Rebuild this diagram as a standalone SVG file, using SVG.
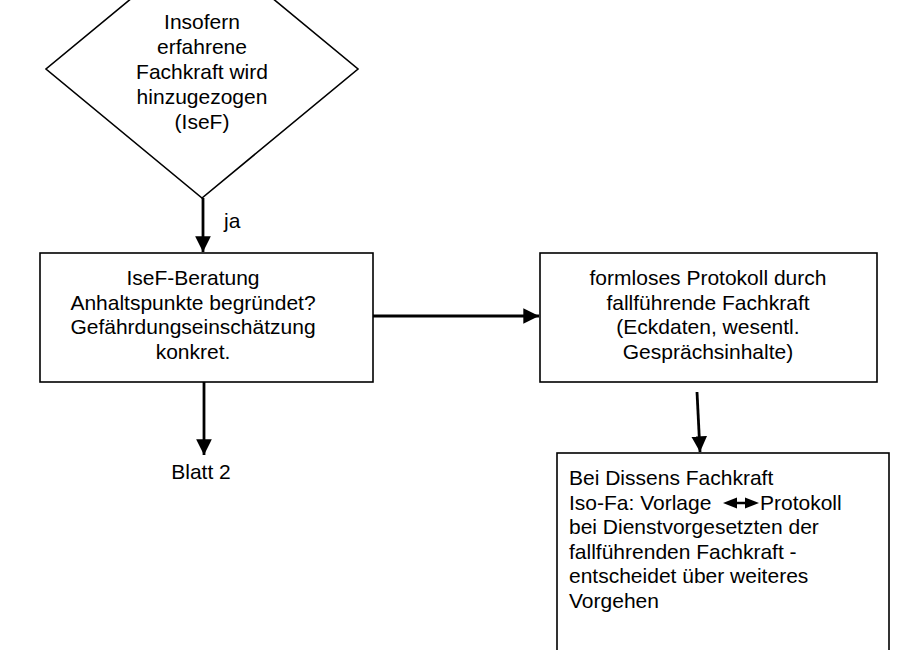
<svg xmlns="http://www.w3.org/2000/svg" width="898" height="650" viewBox="0 0 898 650">
<defs>
<style>
.shape{fill:#fff;stroke:#000;stroke-width:1.6}
.t{font-family:"Liberation Sans",Arial,sans-serif;font-size:21px;fill:#000}
.c{text-anchor:middle}
.conn{stroke:#000;stroke-width:2.8;fill:none}
.head{fill:#000}
</style>
<marker id="arr" viewBox="0 0 10 10" refX="10" refY="5" markerWidth="5.6" markerHeight="5.6" markerUnits="strokeWidth" orient="auto">
<path d="M0,0 L10,5 L0,10 z" fill="#000"/>
</marker>
</defs>
<rect width="898" height="650" fill="#fff"/>
<g id="node-decision">
<polygon class="shape" points="202,-60 358,69 202,198 46,69"/>
<text class="t c" x="202" y="29">Insofern</text>
<text class="t c" x="202" y="54">erfahrene</text>
<text class="t c" x="202" y="79">Fachkraft wird</text>
<text class="t c" x="202" y="104">hinzugezogen</text>
<text class="t c" x="202" y="129">(IseF)</text>
</g>
<g id="node-beratung">
<rect class="shape" x="40" y="253" width="333" height="129"/>
<text class="t c" x="193" y="285">IseF-Beratung</text>
<text class="t c" x="193" y="309.5">Anhaltspunkte begründet?</text>
<text class="t c" x="193" y="334">Gefährdungseinschätzung</text>
<text class="t c" x="193" y="358.5">konkret.</text>
</g>
<g id="node-protokoll">
<rect class="shape" x="540" y="253" width="337" height="129"/>
<text class="t c" x="708" y="285">formloses Protokoll durch</text>
<text class="t c" x="708" y="309.5">fallführende Fachkraft</text>
<text class="t c" x="708" y="334">(Eckdaten, wesentl.</text>
<text class="t c" x="708" y="358.5">Gesprächsinhalte)</text>
</g>
<g id="node-dissens">
<rect class="shape" x="557" y="453" width="332" height="220"/>
<text class="t" x="569" y="485">Bei Dissens Fachkraft</text>
<text class="t" x="569" y="509.5">Iso-Fa: Vorlage </text>
<polygon class="head" points="723,503 737,497.5 737,508.5"/>
<polygon class="head" points="759,503 745,497.5 745,508.5"/>
<line x1="735" y1="503" x2="747" y2="503" stroke="#000" stroke-width="2.5"/>
<text class="t" x="760" y="509.5">Protokoll</text>
<text class="t" x="569" y="534">bei Dienstvorgesetzten der</text>
<text class="t" x="569" y="558.5">fallführenden Fachkraft -</text>
<text class="t" x="569" y="583">entscheidet über weiteres</text>
<text class="t" x="569" y="607.5">Vorgehen</text>
</g>
<g id="node-blatt2">
<text class="t c" x="201" y="479">Blatt 2</text>
</g>
<g id="connectors">
<line class="conn" x1="203" y1="198" x2="203" y2="252" marker-end="url(#arr)"/>
<text class="t" x="224" y="228">ja</text>
<line class="conn" x1="373" y1="316" x2="539" y2="316" marker-end="url(#arr)"/>
<line class="conn" x1="204" y1="382" x2="204" y2="455" marker-end="url(#arr)"/>
<line class="conn" x1="697" y1="392" x2="700" y2="452" marker-end="url(#arr)"/>
</g>
</svg>
